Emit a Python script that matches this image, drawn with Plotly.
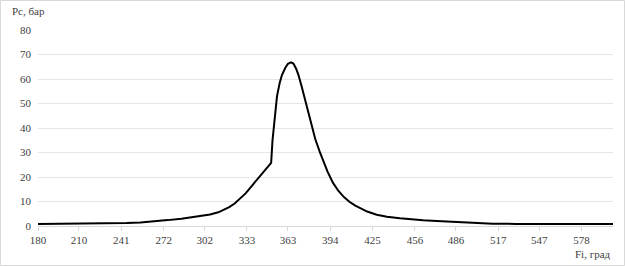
import plotly.graph_objects as go

# Crank angle, degrees
fi = [180, 200, 220, 235, 245, 255, 265, 275, 285, 295, 300, 306, 312, 316, 320, 324, 328,
      332, 336, 340, 345, 350.7, 351.7, 353, 355, 357, 358.6, 361, 363, 365.2, 367, 369,
      370.7, 373, 375.6, 378, 380.5, 383, 386.6, 389, 392, 396, 400, 404, 408,
      412, 416, 421, 428, 435.5, 445, 452.6, 462, 472, 482, 495, 513, 530, 560, 601]
# Cylinder pressure, bar
pc = [0.8, 0.85, 0.95, 1.05, 1.2, 1.45, 1.85, 2.4, 3.0, 3.7, 4.15, 4.7, 5.6, 6.5, 7.7, 9.2, 11.1,
      13.3, 16.0, 18.8, 22.2, 25.8, 35.0, 43.0, 53.0, 58.5, 61.6, 64.5, 66.2, 66.8, 66.3, 64.2,
      61.6, 57.0, 51.4, 46.0, 40.5, 35.5, 29.8, 26.3, 22.2, 17.6, 14.3, 11.8, 9.9,
      8.4, 7.2, 5.9, 4.6, 3.8, 3.2, 2.75, 2.35, 2.0, 1.7, 1.3, 0.95, 0.85, 0.8, 0.8]

x_ticks = [180, 210, 241, 272, 302, 333, 363, 394, 425, 456, 486, 517, 547, 578]
y_ticks = [0, 10, 20, 30, 40, 50, 60, 70, 80]

FONT = "Liberation Serif"
W, H = 625, 266
ML, MR, MT, MB = 38, 12, 30, 40
PW, PH = W - ML - MR, H - MT - MB

fig = go.Figure()
fig.add_trace(go.Scatter(x=fi, y=pc, mode="lines",
                         line=dict(color="black", width=2), hoverinfo="skip"))

fig.update_layout(
    width=W, height=H,
    margin=dict(l=ML, r=MR, t=MT, b=MB),
    paper_bgcolor="white", plot_bgcolor="white",
    showlegend=False,
    font=dict(family=FONT, size=11, color="#404040"),
    xaxis=dict(range=[180, 601], tickvals=x_ticks, ticktext=[str(v) for v in x_ticks],
               showgrid=False, zeroline=False, showline=True, linecolor="#d9d9d9",
               linewidth=1, ticks="outside", ticklen=4, tickcolor="#d9d9d9",
               tickfont=dict(family=FONT, size=11, color="#404040")),
    yaxis=dict(range=[0, 80], tickvals=y_ticks, showgrid=True, gridcolor="#e6e6e6",
               gridwidth=1, zeroline=False, showline=False, ticks="",
               ticklabelstandoff=6,
               tickfont=dict(family=FONT, size=11, color="#404040")),
    annotations=[
        dict(text="Pc, бар", xref="paper", yref="paper",
             x=(10 - ML) / PW, y=1 + (MT - 11) / PH, xanchor="left", yanchor="middle",
             showarrow=False, font=dict(family=FONT, size=11, color="#404040")),
        dict(text="Fi, град", xref="paper", yref="paper",
             x=1 + (613 - (W - MR)) / PW, y=-(254 - (H - MB)) / PH,
             xanchor="right", yanchor="middle",
             showarrow=False, font=dict(family=FONT, size=11, color="#404040")),
    ],
    shapes=[dict(type="rect", xref="paper", yref="paper",
                 x0=(0.5 - ML) / PW, x1=(W - 0.5 - ML) / PW,
                 y0=-(H - 0.5 - MT - PH) / PH, y1=1 + (MT - 0.5) / PH,
                 line=dict(color="#d9d9d9", width=1), layer="below")],
)

fig.write_html("out.html")
